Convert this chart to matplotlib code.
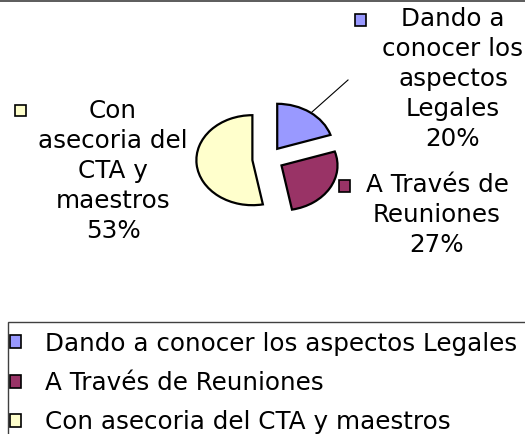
import matplotlib
matplotlib.use("Agg")
import matplotlib.pyplot as plt
from matplotlib.patches import Rectangle
from matplotlib.lines import Line2D

# ---- data ----
categories = ["Dando a conocer los aspectos Legales",
              "A Través de Reuniones",
              "Con asecoria del CTA y maestros"]
wrapped_labels = ["Dando a\nconocer los\naspectos\nLegales",
                  "A Través de\nReuniones",
                  "Con\nasecoria del\nCTA y\nmaestros"]
values = [20, 27, 53]
colors = ["#9999FF", "#993366", "#FFFFCC"]

W, H = 525, 434
DPI = 100
FS = 17.7
plt.rcParams['font.family'] = ['DejaVu Sans']

fig = plt.figure(figsize=(W / DPI, H / DPI), dpi=DPI)
fig.patch.set_facecolor("white")


def fx(x):
    return x / W


def fy(y):
    return 1 - y / H


# pie axes covering the whole figure, elliptical pie
ax = fig.add_axes([0, 0, 1, 1])
wedges, _ = ax.pie(values, colors=colors, explode=[0.28] * 3, startangle=90,
                   counterclock=False,
                   wedgeprops=dict(edgecolor="black", linewidth=1.6))
ax.set_aspect("auto")
cx, cy, rx, ry = 268, 159, 56, 45
ax.set_xlim(-cx / rx, (W - cx) / rx)
ax.set_ylim(-(H - cy) / ry, cy / ry)
ax.axis("off")

# top border
fig.add_artist(Line2D([0, 1], [fy(0.8), fy(0.8)], transform=fig.transFigure,
                      color="#404040", lw=1.2))

# leader line for first slice
fig.add_artist(Line2D([fx(312), fx(348)], [fy(112), fy(80)],
                      transform=fig.transFigure, color="black", lw=0.8))

# data labels
total = sum(values)
label_pos = [(453, 79), (437, 215), (113, 171)]
marker_pos = [(360, 20), (344, 186), (20, 110)]
for lab, v, c, (tx, ty), (mx, my) in zip(wrapped_labels, values, colors,
                                         label_pos, marker_pos):
    pct = f"{round(100 * v / total)}%"
    fig.text(fx(tx), fy(ty), f"{lab}\n{pct}", ha="center", va="center",
             multialignment="center", fontsize=FS, linespacing=1.31,
             color="black")
    s = 11
    fig.add_artist(Rectangle((fx(mx - s / 2), fy(my + s / 2)), s / W, s / H,
                             transform=fig.transFigure, facecolor=c,
                             edgecolor="black", lw=1.2))

# legend frame (extends beyond the image edge)
fig.add_artist(Rectangle((fx(8), fy(440)), (W + 20) / W, (440 - 322) / H,
                         transform=fig.transFigure, facecolor="none",
                         edgecolor="#404040", lw=1.0))

leg = fig.legend(wedges, categories, loc="upper left",
                 bbox_to_anchor=(fx(10), fy(331.5)), frameon=False,
                 fontsize=FS, handlelength=0.45, handleheight=0.45,
                 handletextpad=0.975, labelspacing=0.63, borderpad=0.0,
                 borderaxespad=0.0)
for h in leg.legend_handles:
    h.set_linewidth(1.2)
    h.set_edgecolor("black")

fig.savefig("out.png", dpi=DPI)
